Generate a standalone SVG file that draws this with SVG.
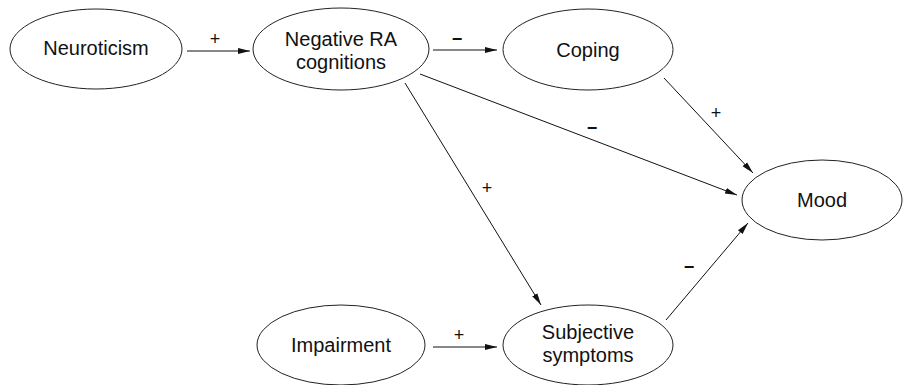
<svg xmlns="http://www.w3.org/2000/svg" width="903" height="385" viewBox="0 0 903 385">
<style>
.node ellipse{fill:#fff;stroke:#222;stroke-width:1}
text{font-family:"Liberation Sans","DejaVu Sans",sans-serif;font-size:20px;fill:#111;text-anchor:middle}
.edges line{stroke:#111;stroke-width:1;marker-end:url(#ah)}
.lbl{font-size:18px}
.neg{font-weight:bold}
</style>
<defs>
<marker id="ah" viewBox="0 0 12 8" refX="12" refY="4" markerWidth="12" markerHeight="8" markerUnits="userSpaceOnUse" orient="auto">
<path d="M0,1 L12,4 L0,7 Z" fill="#111"/>
</marker>
</defs>
<rect width="903" height="385" fill="#fff"/>
<g id="neuroticism" class="node"><ellipse cx="96" cy="49" rx="86" ry="40"/><text x="96" y="55">Neuroticism</text></g>
<g id="negra" class="node"><ellipse cx="341" cy="49" rx="88" ry="41"/><text x="341" y="46">Negative RA</text><text x="341" y="69">cognitions</text></g>
<g id="coping" class="node"><ellipse cx="588" cy="49.5" rx="85" ry="40.5"/><text x="588" y="57">Coping</text></g>
<g id="mood" class="node"><ellipse cx="822" cy="200" rx="80" ry="40"/><text x="822" y="207">Mood</text></g>
<g id="impairment" class="node"><ellipse cx="341" cy="345" rx="84" ry="40"/><text x="341" y="352">Impairment</text></g>
<g id="subjective" class="node"><ellipse cx="588" cy="345" rx="85" ry="40"/><text x="588" y="339">Subjective</text><text x="588" y="362">symptoms</text></g>
<g class="edges">
<line x1="187" y1="51" x2="250" y2="51"/>
<line x1="433" y1="50" x2="497" y2="50"/>
<line x1="420" y1="74" x2="737" y2="195"/>
<line x1="664" y1="78" x2="753" y2="173"/>
<line x1="405" y1="83" x2="541" y2="305"/>
<line x1="666" y1="320" x2="748" y2="223"/>
<line x1="433" y1="347" x2="497" y2="347"/>
</g>
<g class="labels">
<text class="lbl" x="215" y="45">+</text>
<text class="lbl neg" x="457" y="45">−</text>
<text class="lbl neg" x="592" y="134">−</text>
<text class="lbl" x="716" y="119">+</text>
<text class="lbl" x="487" y="194">+</text>
<text class="lbl neg" x="689" y="273">−</text>
<text class="lbl" x="459" y="341">+</text>
</g>
</svg>
